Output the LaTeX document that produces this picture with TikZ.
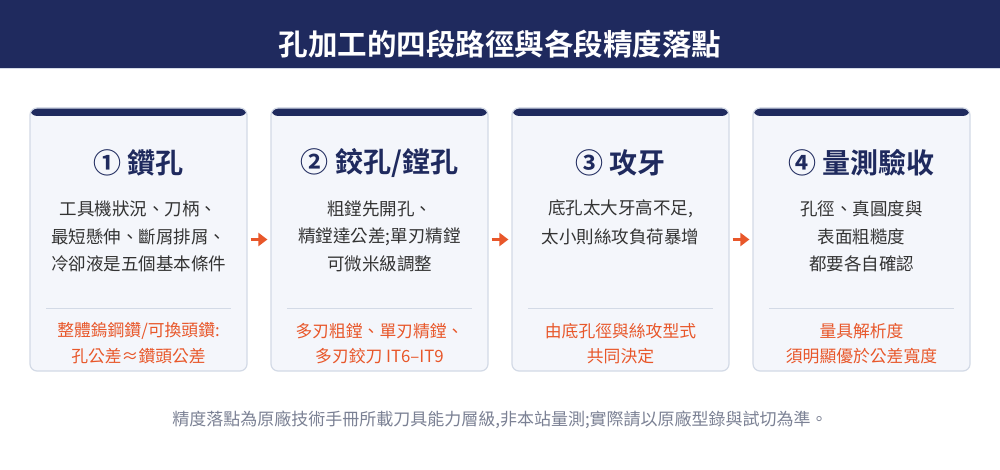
\documentclass[tikz,border=0pt]{standalone}
\usepackage{fontspec}
\setmainfont{Noto Sans CJK TC}[BoldFont={Noto Sans CJK TC Bold}]
\usetikzlibrary{arrows.meta}
\definecolor{navy}{HTML}{1F2A5E}
\definecolor{cardbg}{HTML}{F4F6FB}
\definecolor{cardline}{HTML}{D3DAE6}
\definecolor{bodytext}{HTML}{333333}
\definecolor{accent}{HTML}{E8572A}
\definecolor{notegray}{HTML}{7B8194}

\tikzset{
  card/.style={draw=cardline, fill=cardbg, line width=1.2pt, rounded corners=7pt,
    minimum width=217pt, minimum height=263pt, inner sep=0pt,
    path picture={\fill[navy] (path picture bounding box.north west)
      rectangle ([yshift=-8pt]path picture bounding box.north east);}},
  stepname/.style={font=\bfseries\fontsize{28}{28}\selectfont, text=navy, inner sep=0pt},
  bodyline/.style={font=\fontsize{17.5}{17.5}\selectfont, text=bodytext, inner sep=0pt},
  noteline/.style={font=\fontsize{16.8}{16.8}\selectfont, text=accent, inner sep=0pt},
  sepline/.style={draw=cardline, line width=1.2pt},
  flow/.style={draw=accent, line width=3pt, -{Triangle[length=9pt,width=13pt]},
    shorten <=3pt, shorten >=3pt}
}

\begin{document}
\begin{tikzpicture}[x=1pt,y=-1pt]
  % 背景與標題列
  \fill[white] (0,0) rectangle (1000,470);
  \useasboundingbox (0,0) rectangle (1000,470);
  \fill[navy] (0,0) rectangle (1000,68);
  \draw[cardline, line width=1pt] (0,69) -- (1000,69);
  \node[font=\bfseries\fontsize{29.5}{29.5}\selectfont, text=white, inner sep=0pt] (title) at (500,44) {孔加工的四段路徑與各段精度落點};

  % 四張卡片
  \node[card] (c1) at (138.5,239.5) {};
  \node[card] (c2) at (379.5,239.5) {};
  \node[card] (c3) at (620.5,239.5) {};
  \node[card] (c4) at (861.5,239.5) {};

  % 分隔線
  \foreach \c in {c1,c2,c3,c4}
    \draw[sepline] ([xshift=17pt,yshift=-201pt]\c.north west) -- ([xshift=-17pt,yshift=-201pt]\c.north east);

  % 卡片一
  \node[stepname] (t1) at (138.5,163) {① 鑽孔};
  \node[bodyline] (b1a) at (138.5,209) {工具機狀況、刀柄、};
  \node[bodyline] (b1b) at (138.5,237) {最短懸伸、斷屑排屑、};
  \node[bodyline] (b1c) at (138.5,264) {冷卻液是五個基本條件};
  \node[noteline] (n1a) at (138.5,331) {整體鎢鋼鑽/可換頭鑽:};
  \node[noteline] (n1b) at (138.5,356) {孔公差≈鑽頭公差};

  % 卡片二
  \node[stepname] (t2) at (379.5,163) {② 鉸孔/鏜孔};
  \node[bodyline] (b2a) at (379.5,209) {粗鏜先開孔、};
  \node[bodyline] (b2b) at (379.5,237) {精鏜達公差;單刃精鏜};
  \node[bodyline] (b2c) at (379.5,264) {可微米級調整};
  \node[noteline] (n2a) at (379.5,331) {多刃粗鏜、單刃精鏜、};
  \node[noteline] (n2b) at (379.5,356) {多刃鉸刀 IT6–IT9};

  % 卡片三
  \node[stepname] (t3) at (620.5,163) {③ 攻牙};
  \node[bodyline] (b3a) at (620.5,209) {底孔太大牙高不足,};
  \node[bodyline] (b3b) at (620.5,237) {太小則絲攻負荷暴增};
  \node[noteline] (n3a) at (620.5,331) {由底孔徑與絲攻型式};
  \node[noteline] (n3b) at (620.5,356) {共同決定};

  % 卡片四
  \node[stepname] (t4) at (861.5,163) {④ 量測驗收};
  \node[bodyline] (b4a) at (861.5,209) {孔徑、真圓度與};
  \node[bodyline] (b4b) at (861.5,237) {表面粗糙度};
  \node[bodyline] (b4c) at (861.5,264) {都要各自確認};
  \node[noteline] (n4a) at (861.5,331) {量具解析度};
  \node[noteline] (n4b) at (861.5,356) {須明顯優於公差寬度};

  % 箭頭
  \draw[flow] (c1.east) -- (c2.west);
  \draw[flow] (c2.east) -- (c3.west);
  \draw[flow] (c3.east) -- (c4.west);

  % 註腳
  \node[font=\fontsize{17}{17}\selectfont, text=notegray, inner sep=0pt] (foot) at (500,420) {精度落點為原廠技術手冊所載刀具能力層級,非本站量測;實際請以原廠型錄與試切為準。};
\end{tikzpicture}
\end{document}
